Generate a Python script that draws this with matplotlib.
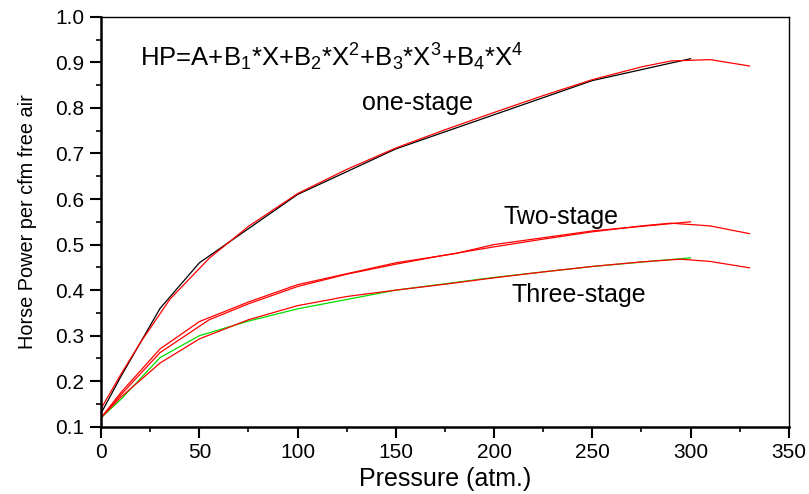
import numpy as np
import matplotlib.pyplot as plt
from matplotlib.ticker import MultipleLocator

plt.rcParams['font.family'] = ['Liberation Sans', 'DejaVu Sans']
plt.rcParams['mathtext.fontset'] = 'custom'
plt.rcParams['mathtext.rm'] = 'Liberation Sans'

# one-stage
x1_data = [0, 10, 30, 50, 100, 150, 200, 250, 300]
y1_data = [0.13, 0.21, 0.36, 0.46, 0.61, 0.71, 0.785, 0.86, 0.908]
x1_fit = [0, 10, 20, 35, 55, 75, 100, 125, 150, 175, 200, 225, 250, 275, 290, 310, 330]
y1_fit = [0.14, 0.215, 0.285, 0.38, 0.47, 0.54, 0.612, 0.665, 0.712, 0.752, 0.79, 0.827, 0.862, 0.89, 0.903, 0.906, 0.892]

# two-stage
x2_data = [0, 10, 30, 50, 75, 100, 150, 180, 200, 250, 300]
y2_data = [0.12, 0.175, 0.271, 0.331, 0.374, 0.412, 0.46, 0.48, 0.50, 0.53, 0.55]
x2_fit = [0, 10, 30, 55, 75, 100, 125, 150, 175, 200, 225, 250, 275, 290, 310, 330]
y2_fit = [0.12, 0.17, 0.263, 0.335, 0.37, 0.408, 0.435, 0.457, 0.477, 0.495, 0.512, 0.528, 0.541, 0.547, 0.541, 0.524]

# three-stage
x3_data = [0, 10, 30, 50, 75, 100, 150, 200, 250, 300]
y3_data = [0.12, 0.16, 0.252, 0.30, 0.332, 0.359, 0.40, 0.428, 0.452, 0.471]
x3_fit = [0, 10, 30, 50, 75, 100, 125, 150, 175, 200, 225, 250, 275, 295, 310, 330]
y3_fit = [0.12, 0.165, 0.24, 0.293, 0.335, 0.366, 0.386, 0.40, 0.413, 0.427, 0.44, 0.452, 0.462, 0.468, 0.463, 0.449]

fig = plt.figure(figsize=(8.09, 4.94), dpi=100)
ax = fig.add_axes([0.125, 0.136, 0.85, 0.83])

lw = 0.9
ax.plot(x1_data, y1_data, color='black', lw=lw)
ax.plot(x1_fit, y1_fit, color='red', lw=lw)
ax.plot(x2_data, y2_data, color='red', lw=lw)
ax.plot(x2_fit, y2_fit, color='red', lw=lw)
ax.plot(x3_data, y3_data, color='#00dd00', lw=lw)
ax.plot(x3_fit, y3_fit, color='red', lw=lw)

formula = (r'HP=A+B$\mathregular{_1}$*X+B$\mathregular{_2}$*X$\mathregular{^2}$'
           r'+B$\mathregular{_3}$*X$\mathregular{^3}$+B$\mathregular{_4}$*X$\mathregular{^4}$')
ax.text(20, 0.912, formula, fontsize=18.5, va='center', ha='left')
ax.text(133, 0.811, 'one-stage', fontsize=18, va='center', ha='left')
ax.text(205, 0.561, 'Two-stage', fontsize=18, va='center', ha='left')
ax.text(209, 0.39, 'Three-stage', fontsize=18, va='center', ha='left')

ax.set_xlim(0, 350)
ax.set_ylim(0.1, 1.0)
ax.xaxis.set_major_locator(MultipleLocator(50))
ax.xaxis.set_minor_locator(MultipleLocator(25))
ax.yaxis.set_major_locator(MultipleLocator(0.1))
ax.yaxis.set_minor_locator(MultipleLocator(0.05))
ax.tick_params(which='major', direction='out', length=8, width=1.5, labelsize=15, pad=4)
ax.tick_params(which='minor', direction='out', length=3.5, width=1.2)
ax.spines['left'].set_linewidth(1.8)
ax.spines['bottom'].set_linewidth(1.8)
ax.spines['top'].set_linewidth(1)
ax.spines['right'].set_linewidth(1)

ax.set_xlabel('Pressure (atm.)', fontsize=18, labelpad=3)
ax.set_ylabel('Horse Power per cfm free air', fontsize=14.3)
ax.yaxis.set_label_coords(-0.093, 0.5)

fig.savefig('out.png', dpi=100)
